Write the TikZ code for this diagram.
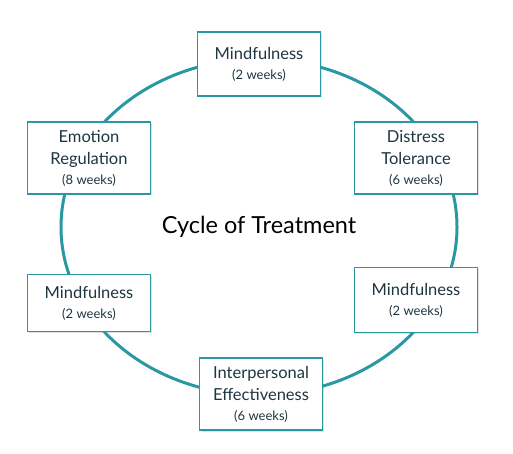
\documentclass[tikz,border=0pt]{standalone}
\usepackage{fontspec}
\setmainfont{Lato}
\usetikzlibrary{shapes.geometric,shadows}
\definecolor{tealline}{HTML}{2A98A3}
\definecolor{boxtext}{HTML}{1E3640}
\newcommand{\wks}[1]{{\fontsize{13}{15}\selectfont #1}}
\begin{document}
\begin{tikzpicture}[x=1pt,y=-1pt,
  stagebox/.style={draw=tealline, line width=1.2pt, fill=white,
    minimum width=123pt, align=center, text=boxtext,
    font=\fontsize{16.5}{22}\selectfont, inner sep=1pt,
    drop shadow={shadow xshift=1pt, shadow yshift=-1.5pt, opacity=0.25}}]
\fill[white] (0,0) rectangle (513,454);
\useasboundingbox (0,0) rectangle (513,454);
\node[ellipse, draw=tealline, line width=3pt, minimum width=396pt,
  minimum height=336pt, inner sep=0pt,
  font=\fontsize{23.5}{26}\selectfont] (cyc) at (259,227) {Cycle of Treatment};
\node[stagebox, minimum height=64pt] (m1) at (259,64) {Mindfulness\\[-2pt]\wks{(2 weeks)}};
\node[stagebox, minimum height=72pt] (dt) at (416,158) {Distress\\[0pt]Tolerance\\[-2pt]\wks{(6 weeks)}};
\node[stagebox, minimum height=65pt] (m2) at (416,300) {Mindfulness\\[-2pt]\wks{(2 weeks)}};
\node[stagebox, minimum height=72pt] (ie) at (261,394) {Interpersonal\\[0pt]Effectiveness\\[-2pt]\wks{(6 weeks)}};
\node[stagebox, minimum height=57pt] (m3) at (89,303) {Mindfulness\\[-2pt]\wks{(2 weeks)}};
\node[stagebox, minimum height=72pt] (er) at (89,158) {Emotion\\[0pt]Regulation\\[-2pt]\wks{(8 weeks)}};
\end{tikzpicture}
\end{document}
